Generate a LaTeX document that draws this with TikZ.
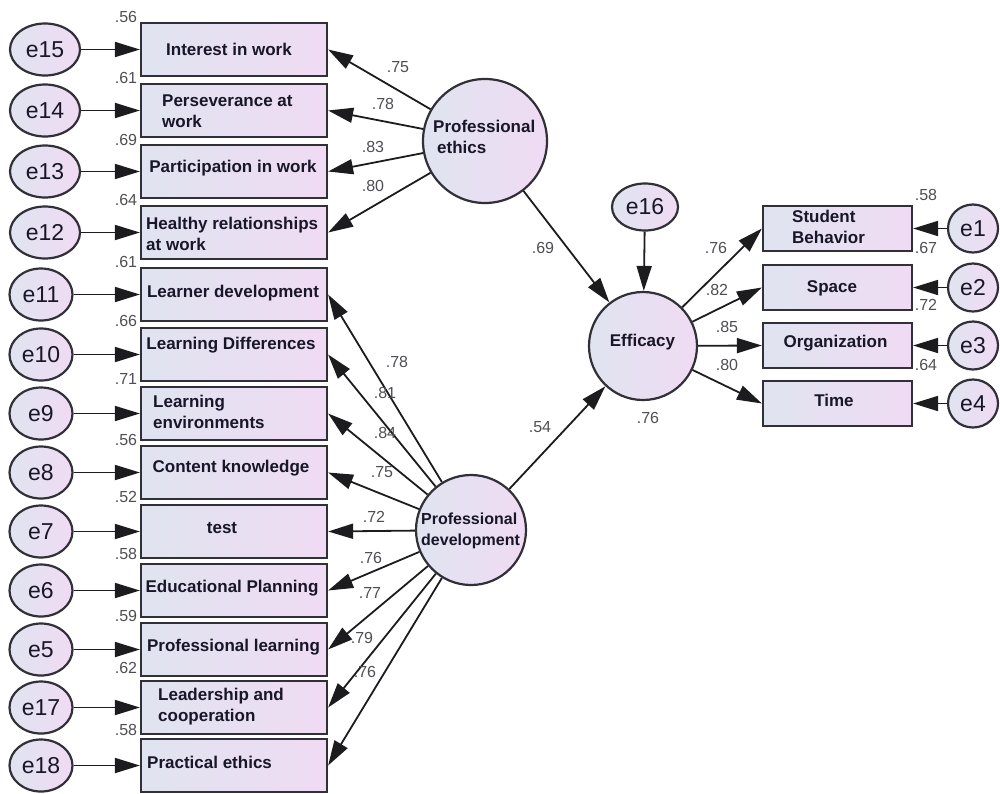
\documentclass[tikz,border=0pt]{standalone}
\usepackage{fontspec}
\setmainfont{Liberation Sans}
\usetikzlibrary{arrows.meta,shapes.geometric}
\definecolor{boxL}{RGB}{224,228,240}
\definecolor{boxR}{RGB}{240,219,244}
\definecolor{edge}{RGB}{48,48,54}
\definecolor{ink}{RGB}{24,22,40}
\definecolor{num}{RGB}{78,78,84}
\definecolor{wire}{RGB}{28,28,30}
\begin{document}
\begin{tikzpicture}[x=1pt,y=-1pt,
  box/.style={draw=edge, line width=2.2pt, left color=boxL, right color=boxR, minimum width=186pt, minimum height=53pt, inner sep=0pt},
  rbox/.style={box, minimum width=149pt, minimum height=45pt},
  err/.style={draw=edge, line width=2.2pt, ellipse, left color=boxL, right color=boxR, minimum width=63pt, minimum height=52pt, inner sep=0pt, font=\fontsize{23}{25}\selectfont, text=ink},
  lat/.style={draw=edge, line width=2.2pt, circle, left color=boxL, right color=boxR, inner sep=0pt},
  txt/.style={font=\bfseries\fontsize{17}{21}\selectfont, text=ink, inner sep=0pt, align=left},
  coef/.style={font=\fontsize{16}{18}\selectfont, text=num, inner sep=0pt},
  arr/.style={draw=wire, line width=1.8pt, -{Triangle[length=25pt,width=15pt]}},
]
\useasboundingbox (0,0) rectangle (1000,793);

% left observed boxes
\node[box] (b1) at (234,49.5) {};
\node[box] (b2) at (234,110.5) {};
\node[box] (b3) at (234,171.5) {};
\node[box] (b4) at (234,232.5) {};
\node[box] (b5) at (234,294.5) {};
\node[box] (b6) at (234,354.5) {};
\node[box] (b7) at (234,413.5) {};
\node[box] (b8) at (234,472.5) {};
\node[box] (b9) at (234,531.5) {};
\node[box] (b10) at (234,590.5) {};
\node[box] (b11) at (234,649.5) {};
\node[box] (b12) at (234,707.5) {};
\node[box] (b13) at (234,765.5) {};

\node[txt] (t1) at (229,49) {Interest in work};
\node[txt, anchor=west] (t2) at (162,111.5) {Perseverance at\\work};
\node[txt] (t3) at (233,168) {Participation in work};
\node[txt, anchor=west] (t4) at (146,234) {Healthy relationships\\at work};
\node[txt] (t5) at (233,293) {Learner development};
\node[txt] (t6) at (231,345) {Learning Differences};
\node[txt, anchor=west] (t7) at (153,412) {Learning\\environments};
\node[txt] (t8) at (231,468) {Content knowledge};
\node[txt] (t9) at (222,528) {test};
\node[txt] (t10) at (232,588) {Educational Planning};
\node[txt] (t11) at (233.5,647) {Professional learning};
\node[txt, anchor=west] (t12) at (158,707) {Leadership and\\cooperation};
\node[txt, anchor=west] (t13) at (147,762) {Practical ethics};

% R2 labels left
\node[coef] (q1) at (126,17) {.56};
\node[coef] (q2) at (126,78) {.61};
\node[coef] (q3) at (126,140) {.69};
\node[coef] (q4) at (126,200) {.64};
\node[coef] (q5) at (126,262) {.61};
\node[coef] (q6) at (126,321) {.66};
\node[coef] (q7) at (126,379) {.71};
\node[coef] (q8) at (126,440) {.56};
\node[coef] (q9) at (126,497) {.52};
\node[coef] (q10) at (126,554) {.58};
\node[coef] (q11) at (126,616) {.59};
\node[coef] (q12) at (126,668) {.62};
\node[coef] (q13) at (126,730) {.58};

% left error terms
\node[err, minimum width=70pt] (e15) at (45,49.5) {e15};
\node[err, minimum width=70pt] (e14) at (45,110.5) {e14};
\node[err, minimum width=70pt] (e13) at (45,171.5) {e13};
\node[err, minimum width=70pt] (e12) at (45,232.5) {e12};
\node[err] (e11) at (41,294.5) {e11};
\node[err] (e10) at (41,354.5) {e10};
\node[err] (e9) at (41,413.5) {e9};
\node[err] (e8) at (41,472.5) {e8};
\node[err] (e7) at (41,531.5) {e7};
\node[err] (e6) at (41,590.5) {e6};
\node[err] (e5) at (41,649.5) {e5};
\node[err] (e17) at (41,707.5) {e17};
\node[err] (e18) at (41,765.5) {e18};

\draw[arr] (e15) -- (b1);
\draw[arr] (e14) -- (b2);
\draw[arr] (e13) -- (b3);
\draw[arr] (e12) -- (b4);
\draw[arr] (e11) -- (b5);
\draw[arr] (e10) -- (b6);
\draw[arr] (e9) -- (b7);
\draw[arr] (e8) -- (b8);
\draw[arr] (e7) -- (b9);
\draw[arr] (e6) -- (b10);
\draw[arr] (e5) -- (b11);
\draw[arr] (e17) -- (b12);
\draw[arr] (e18) -- (b13);

% latent variables
\node[lat, minimum size=124pt] (pe) at (485,141) {};
\node[txt, anchor=west] (pet) at (433,137) {Professional\\\hspace*{4pt}ethics};
\node[lat, minimum size=110pt] (pd) at (471,530) {};
\node[txt, anchor=west, font=\bfseries\fontsize{16}{21}\selectfont] (pdt) at (421,531) {Professional\\development};
\node[lat, minimum size=108pt] (eff) at (643,346) {};
\node[txt] (efft) at (642.5,342) {Efficacy};
\node[err, minimum width=66pt, minimum height=47pt] (e16) at (645,207) {e16};

\draw[arr] (pe) -- (b1.east);
\draw[arr] (pe) -- (b2.east);
\draw[arr] (pe) -- (b3.east);
\draw[arr] (pe) -- (b4.east);
\draw[arr] (pd) -- (b5.east);
\draw[arr] (pd) -- (b6.east);
\draw[arr] (pd) -- (b7.east);
\draw[arr] (pd) -- (b8.east);
\draw[arr] (pd) -- (b9.east);
\draw[arr] (pd) -- (b10.east);
\draw[arr] (pd) -- (b11.east);
\draw[arr] (pd) -- (b12.east);
\draw[arr] (pd) -- (b13.east);
\draw[arr] (pe) -- (eff);
\draw[arr] (pd) -- (eff);
\draw[arr] (e16) -- (eff);

% right observed boxes
\node[rbox] (r1) at (837.5,228.5) {};
\node[rbox] (r2) at (837.5,287.5) {};
\node[rbox] (r3) at (837.5,345.5) {};
\node[rbox] (r4) at (837.5,403.5) {};
\node[txt, anchor=west] (rt1) at (792,227) {Student\\Behavior};
\node[txt] (rt2) at (832,288) {Space};
\node[txt] (rt3) at (835.5,343) {Organization};
\node[txt] (rt4) at (834,400) {Time};

\node[err, minimum width=50pt, minimum height=48pt] (e1) at (973,228.5) {e1};
\node[err, minimum width=50pt, minimum height=48pt] (e2) at (973,287.5) {e2};
\node[err, minimum width=50pt, minimum height=48pt] (e3) at (973,345.5) {e3};
\node[err, minimum width=50pt, minimum height=48pt] (e4) at (973,403.5) {e4};

\draw[arr] (eff) -- (r1.west);
\draw[arr] (eff) -- (r2.west);
\draw[arr] (eff) -- (r3.west);
\draw[arr] (eff) -- (r4.west);
\draw[arr] (e1) -- (r1);
\draw[arr] (e2) -- (r2);
\draw[arr] (e3) -- (r3);
\draw[arr] (e4) -- (r4);

% path coefficients
\node[coef] (c1) at (398,67) {.75};
\node[coef] (c2) at (383,104) {.78};
\node[coef] (c3) at (373,147) {.83};
\node[coef] (c4) at (373,186) {.80};
\node[coef] (c5) at (543,248) {.69};
\node[coef] (c6) at (397,362) {.78};
\node[coef] (c7) at (385,393) {.81};
\node[coef] (c8) at (385,433) {.84};
\node[coef] (c9) at (382,472) {.75};
\node[coef] (c10) at (374,517) {.72};
\node[coef] (c11) at (371,558) {.76};
\node[coef] (c12) at (370,593) {.77};
\node[coef] (c13) at (362,638) {.79};
\node[coef] (c14) at (365,672) {.76};
\node[coef] (c15) at (540,427) {.54};
\node[coef] (c16) at (716,248) {.76};
\node[coef] (c17) at (717,290) {.82};
\node[coef] (c18) at (727,327) {.85};
\node[coef] (c19) at (727,365) {.80};
\node[coef] (c20) at (648,418) {.76};

% R2 labels right
\node[coef] (s1) at (926,195) {.58};
\node[coef] (s2) at (926,248) {.67};
\node[coef] (s3) at (926,305) {.72};
\node[coef] (s4) at (926,365) {.64};
\end{tikzpicture}
\end{document}
